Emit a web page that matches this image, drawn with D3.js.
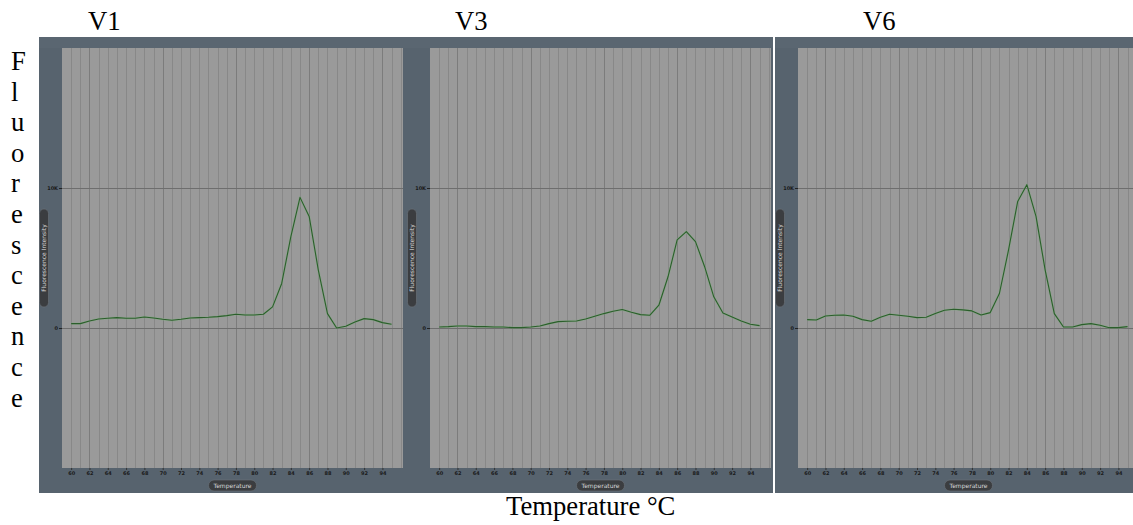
<!DOCTYPE html>
<meta charset="utf-8">
<style>
    body { margin: 0; background: #fff; }
    svg { display: block; }
    .serif { font-family: "Times New Roman", "Liberation Serif", serif; fill: #000; }
    .tick text { font-family: "DejaVu Sans", sans-serif; font-size: 5px; font-weight: bold; fill: #1a1a1a; }
    .pill text { font-family: "DejaVu Sans", sans-serif; font-size: 6px; fill: #d8d8d8; }
</style>
<svg id="chart" width="1133" height="525"></svg>
<script src="https://cdn.jsdelivr.net/npm/d3@7"></script>
<script>
// melt curves, one reading per degree
var temps = [60, 61, 62, 63, 64, 65, 66, 67, 68, 69, 70, 71, 72, 73, 74, 75, 76, 77,
             78, 79, 80, 81, 82, 83, 84, 85, 86, 87, 88, 89, 90, 91, 92, 93, 94, 95];

var v1 = [311, 311, 502, 646, 694, 742, 694, 694, 789, 718, 622, 550, 622, 718, 742, 766, 813, 885,
          981, 933, 933, 981, 1507, 3182, 6531, 9330, 7967, 4139, 1029, 0, 120, 431, 670, 598, 383, 263];

var v3 = [72, 96, 144, 144, 96, 96, 72, 72, 24, 24, 72, 144, 311, 455, 478, 502, 646, 837,
          1029, 1196, 1316, 1124, 957, 909, 1627, 3660, 6292, 6890, 6172, 4378, 2225, 1077, 789, 502, 263, 167];

var v6 = [598, 574, 861, 909, 933, 837, 598, 478, 766, 981, 909, 837, 742, 766, 1029, 1268, 1340, 1292,
          1220, 933, 1100, 2464, 5574, 9043, 10239, 7967, 4139, 1029, 72, 72, 239, 311, 191, 24, 24, 96];

var panelNames = ["V1", "V3", "V6"];
var panelValues = [v1, v3, v6];
var xTicks = [60, 62, 64, 66, 68, 70, 72, 74, 76, 78, 80, 82, 84, 86, 88, 90, 92, 94];
var yTicks = [0, 10000];
var yTickLabels = ["0", "10K"];
var yLetters = "Fluorescence".split("");

var svg = d3.select("#chart");

var panelX = [39, 407, 775]; // left edge of each dark panel
var titleX = [88, 455, 863];
var panelW = 368;
var frameTop = 37, frameBottom = 493;
var plotTop = 48, plotBottom = 468;

var y = d3.scaleLinear().domain([-10000, 20000]).range([plotBottom, plotTop]);

panelNames.forEach(function (name, i) {
    var ox = panelX[i];
    var x = d3.scaleLinear().domain([59, 96.25]).range([ox + 23, ox + 364]);
    var g = svg.append("g");
    var fw = Math.min(panelW, 1133 - ox);

    // dark instrument frame
    g.append("rect")
        .attr("x", ox).attr("y", frameTop)
        .attr("width", fw).attr("height", frameBottom - frameTop)
        .attr("fill", "#57636e");
    g.append("rect")
        .attr("x", ox).attr("y", frameTop)
        .attr("width", fw).attr("height", plotTop - frameTop)
        .attr("fill", "#5a6671");

    // plot area
    g.append("rect")
        .attr("x", x.range()[0]).attr("y", plotTop)
        .attr("width", x.range()[1] - x.range()[0]).attr("height", plotBottom - plotTop)
        .attr("fill", "#9a9a9a");

    // vertical grid every degree
    g.selectAll(".vgrid")
        .data(d3.range(60, 97))
        .join("line")
        .attr("x1", d => Math.round(x(d)) + 0.5).attr("x2", d => Math.round(x(d)) + 0.5)
        .attr("y1", plotTop).attr("y2", plotBottom)
        .attr("stroke", d => (d % 8 == 6) ? "#7c7c7c" : "#888888")
        .attr("stroke-width", 1);

    // horizontal reference lines at 0 and 10K
    g.selectAll(".hgrid")
        .data(yTicks)
        .join("line")
        .attr("x1", x.range()[0]).attr("x2", x.range()[1])
        .attr("y1", d => Math.round(y(d)) + 0.5).attr("y2", d => Math.round(y(d)) + 0.5)
        .attr("stroke", "#6e6e6e").attr("stroke-width", 1);

    // axes
    var xAxis = g.append("g")
        .attr("transform", "translate(0," + plotBottom + ")")
        .call(d3.axisBottom(x).tickValues(xTicks).tickSize(2).tickPadding(1).tickFormat(d3.format("d")));
    xAxis.select(".domain").remove();
    xAxis.selectAll(".tick line").attr("stroke", "#333");

    var yAxis = g.append("g")
        .attr("transform", "translate(" + x.range()[0] + ",0)")
        .call(d3.axisLeft(y).tickValues(yTicks).tickSize(3).tickPadding(1)
            .tickFormat((d, k) => yTickLabels[k]));
    yAxis.select(".domain").remove();
    yAxis.selectAll(".tick line").attr("stroke", "#222");

    // melt curve
    var line = d3.line()
        .x((d, k) => x(temps[k]))
        .y(d => y(d));
    g.append("path")
        .datum(panelValues[i])
        .attr("d", line)
        .attr("fill", "none")
        .attr("stroke", "#7fae7f")
        .attr("stroke-width", 2.2)
        .attr("stroke-opacity", 0.5)
        .attr("stroke-linejoin", "round");
    g.append("path")
        .datum(panelValues[i])
        .attr("d", line)
        .attr("fill", "none")
        .attr("stroke", "#2b5e2b")
        .attr("stroke-width", 1.1)
        .attr("stroke-linejoin", "round");

    // "Temperature" pill under the plot
    var cx = (x.range()[0] + x.range()[1]) / 2;
    var pill = g.append("g").attr("class", "pill");
    pill.append("rect")
        .attr("x", cx - 24).attr("y", 480).attr("width", 48).attr("height", 11)
        .attr("rx", 5.5).attr("fill", "#3b3d40").attr("stroke", "#6d737a").attr("stroke-width", 0.6);
    pill.append("text")
        .attr("x", cx).attr("y", 487.6).attr("text-anchor", "middle")
        .text("Temperature");

    // rotated "Fluorescence Intensity" pill
    var vp = g.append("g").attr("class", "pill")
        .attr("transform", "translate(" + (ox + 5) + ",258) rotate(-90)");
    vp.append("rect")
        .attr("x", -49).attr("y", -4.5).attr("width", 98).attr("height", 9)
        .attr("rx", 4.5).attr("fill", "#3b3d40").attr("stroke", "#6d737a").attr("stroke-width", 0.6);
    vp.append("text")
        .attr("x", 0).attr("y", 2.2).attr("text-anchor", "middle")
        .text("Fluorescence Intensity");

    // panel title
    svg.append("text")
        .attr("class", "serif")
        .attr("x", titleX[i]).attr("y", 30)
        .attr("font-size", "26.67px")
        .text(name);
});

// white separator between V3 and V6
svg.append("rect").attr("x", 773).attr("y", frameTop).attr("width", 2)
    .attr("height", frameBottom - frameTop).attr("fill", "#fff");

// stacked y label
svg.append("g").selectAll("text")
    .data(yLetters)
    .join("text")
    .attr("class", "serif")
    .attr("x", 11)
    .attr("y", (d, k) => 70 + k * 30.6)
    .attr("font-size", "26.67px")
    .text(d => d);

svg.append("text")
    .attr("class", "serif")
    .attr("x", 506).attr("y", 515)
    .attr("font-size", "26.67px")
    .text("Temperature \u00B0C");
</script>
